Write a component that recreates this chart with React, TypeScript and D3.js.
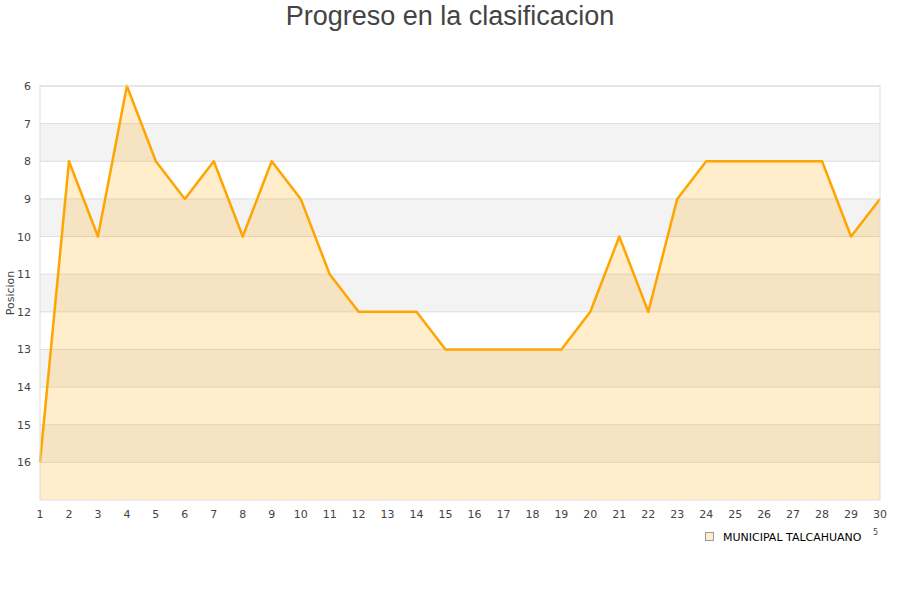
import { useRef, useEffect } from 'react';
import * as d3 from 'd3';

const rounds = d3.range(1, 31);
const positions = [16, 8, 10, 6, 8, 9, 8, 10, 8, 9, 11, 12, 12, 12, 13, 13, 13, 13, 13, 12, 10, 12, 9, 8, 8, 8, 8, 8, 10, 9];
const yTicks = [6, 7, 8, 9, 10, 11, 12, 13, 14, 15, 16];
const teamName = 'MUNICIPAL TALCAHUANO';

const App = () => {
    const ref = useRef<SVGSVGElement>(null);

    useEffect(() => {
        const svg = d3.select(ref.current);
        svg.selectAll('*').remove();

        const margin = { top: 86, left: 40, right: 20, bottom: 100 };
        const width = 900;
        const height = 600;
        const innerW = width - margin.left - margin.right;
        const innerH = height - margin.top - margin.bottom;

        const x = d3.scaleLinear().domain([1, 30]).range([0, innerW]);
        const y = d3.scaleLinear().domain([6, 17]).range([0, innerH]);

        svg.append('text')
            .attr('x', width / 2)
            .attr('y', 25)
            .attr('text-anchor', 'middle')
            .attr('font-family', 'Liberation Sans, Arial, sans-serif')
            .attr('font-size', 27)
            .attr('fill', '#444')
            .text('Progreso en la clasificacion');

        const g = svg.append('g').attr('transform', `translate(${margin.left},${margin.top})`);

        // alternating bands
        g.selectAll('.band')
            .data(d3.range(6, 17))
            .enter().append('rect')
            .attr('x', 0)
            .attr('y', d => y(d))
            .attr('width', innerW)
            .attr('height', d => y(d + 1) - y(d))
            .attr('fill', d => (d % 2 === 1 ? '#f3f3f3' : '#ffffff'));

        // grid lines
        g.selectAll('.grid')
            .data(yTicks)
            .enter().append('line')
            .attr('x1', 0)
            .attr('x2', innerW)
            .attr('y1', d => y(d))
            .attr('y2', d => y(d))
            .attr('stroke', '#dddddd')
            .attr('stroke-width', 1);

        const area = d3.area<number>()
            .x((_, i) => x(rounds[i]))
            .y0(y(17))
            .y1(d => y(d));

        g.append('path')
            .datum(positions)
            .attr('d', area)
            .attr('fill', 'rgba(255,165,0,0.2)');

        const line = d3.line<number>()
            .x((_, i) => x(rounds[i]))
            .y(d => y(d));

        g.append('path')
            .datum(positions)
            .attr('d', line)
            .attr('fill', 'none')
            .attr('stroke', '#ffa500')
            .attr('stroke-width', 2.5)
            .attr('stroke-linejoin', 'round');

        // plot frame
        g.append('rect')
            .attr('x', 0)
            .attr('y', 0)
            .attr('width', innerW)
            .attr('height', innerH)
            .attr('fill', 'none')
            .attr('stroke', '#dddddd');

        // y tick labels
        g.selectAll('.ylab')
            .data(yTicks)
            .enter().append('text')
            .attr('x', -9)
            .attr('y', d => y(d) + 4)
            .attr('text-anchor', 'end')
            .attr('font-family', 'DejaVu Sans, sans-serif')
            .attr('font-size', 11)
            .attr('fill', '#444')
            .text(d => d);

        // x tick labels
        g.selectAll('.xlab')
            .data(rounds)
            .enter().append('text')
            .attr('x', d => x(d))
            .attr('y', innerH + 18)
            .attr('text-anchor', 'middle')
            .attr('font-family', 'DejaVu Sans, sans-serif')
            .attr('font-size', 11)
            .attr('fill', '#444')
            .text(d => d);

        svg.append('text')
            .attr('transform', `translate(14,${margin.top + innerH / 2}) rotate(-90)`)
            .attr('text-anchor', 'middle')
            .attr('font-family', 'DejaVu Sans, sans-serif')
            .attr('font-size', 11)
            .attr('fill', '#444')
            .text('Posicion');

        // legend
        const lg = svg.append('g').attr('transform', 'translate(705,532)');
        lg.append('rect')
            .attr('x', 0.5)
            .attr('y', 0.5)
            .attr('width', 8)
            .attr('height', 8)
            .attr('fill', 'rgba(255,165,0,0.2)')
            .attr('stroke', '#999');
        lg.append('text')
            .attr('x', 18)
            .attr('y', 8.5)
            .attr('font-family', 'DejaVu Sans, sans-serif')
            .attr('font-size', 11)
            .attr('fill', '#000')
            .text(teamName);
        svg.append('text')
            .attr('x', 873)
            .attr('y', 535)
            .attr('font-family', 'DejaVu Sans, sans-serif')
            .attr('font-size', 8)
            .attr('fill', '#444')
            .text('5');
    }, []);

    return <svg ref={ref} width={900} height={600} style={{ position: 'absolute', top: 0, left: 0 }}></svg>;
};

export default App;
